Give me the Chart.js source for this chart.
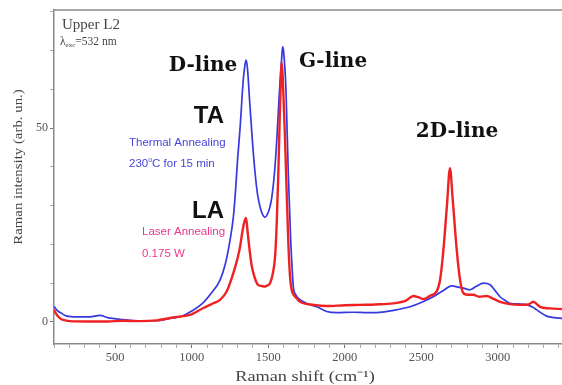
<!DOCTYPE html>
<html>
<head>
<meta charset="utf-8">
<script src="https://cdn.jsdelivr.net/npm/chart.js@4/dist/chart.umd.min.js"></script>
<style>
html,body{margin:0;padding:0;background:#fff;overflow:hidden;}
#wrap{width:562px;height:385px;position:relative;}
</style>
</head>
<body>
<div id="wrap"><canvas id="c" width="562" height="385"></canvas></div>
<script>
// Raman shift (cm^-1) and intensity for Thermal Annealing (blue)
const taShift = [100,120,150,183,250,335,400,450,551,650,771,858,943,1000,1076,1130,1185,1220,1250,1272,1283,1300,1316,1337,1347,1355,1363,1381,1398,1414,1430,1446,1462,1479,1495,1510,1523,1540,1556,1567,1577,1588,1594,1600,1608,1616,1631,1647,1656,1664,1680,1697,1750,1817,1882,1950,2050,2150,2209,2320,2427,2500,2578,2640,2700,2740,2776,2820,2860,2906,2950,2985,3015,3050,3080,3150,3190,3230,3255,3320,3370,3420];
const taIntensity = [4.0,3.0,2.2,1.5,1.3,1.3,1.7,1.1,0.6,0.3,0.3,0.9,1.6,2.8,5.0,7.5,10.8,15,21,27,32,42,50,62.5,66,67.6,66,55.6,46,38.5,33,29.8,27.8,27,27.8,29.5,32,38,47,55,62,68,71,70,66,60,38.5,21,14,9.1,7,6.1,4.8,3.9,2.7,2.4,2.5,2.4,2.4,3.0,3.9,5.0,6.5,8.0,9.3,9.0,8.7,8.3,9.2,10.0,9.6,8.0,6.5,5.5,4.8,4.6,4.4,3.8,3.1,1.5,1.1,0.9];
// Laser Annealing (red)
const laShift = [100,115,140,161,200,335,450,550,662,771,858,943,989,1076,1130,1185,1230,1272,1300,1316,1330,1342,1355,1366,1381,1392,1403,1420,1435,1455,1479,1495,1512,1530,1545,1556,1566,1577,1584,1588,1595,1610,1621,1631,1642,1653,1670,1686,1708,1800,1882,2000,2100,2200,2318,2400,2449,2480,2514,2560,2600,2623,2645,2668,2688,2705,2732,2754,2776,2810,2841,2880,2928,2970,3015,3080,3146,3200,3233,3255,3276,3340,3420];
const laIntensity = [3.2,2.0,0.9,0.5,0.2,0.1,0.1,0.3,0.2,0.4,1.0,1.5,1.8,3.6,4.6,5.7,8.0,12.6,16.5,19.4,23,25.5,26.8,23,17.7,14.5,12.6,10.5,9.5,9.3,9.1,9.4,10,12.5,16.9,26,38.4,55.6,64,67,63,47,33,21,12,8.3,6.8,6.1,5.2,4.4,4.1,4.3,4.4,4.5,4.8,5.5,6.7,6.4,5.9,6.8,7.8,10.8,18.6,30,39.7,32,18.6,10.8,7.4,7.0,7.0,6.5,6.7,6.0,5.2,4.6,4.4,4.5,5.2,4.6,3.9,3.5,3.3];
const xLabelTicks = [500,1000,1500,2000,2500,3000];
const yLabelTicks = [0,50];

const toPts = (xs, ys) => xs.map((x, i) => ({x: x, y: ys[i]}));

const textPlugin = {
  id: 'texts',
  afterDraw(chart) {
    const ctx = chart.ctx;
    const a = chart.chartArea;
    ctx.save();
    // top frame line
    ctx.strokeStyle = '#8a8a8a';
    ctx.lineWidth = 1.5;
    ctx.beginPath();
    ctx.moveTo(a.left, a.top);
    ctx.lineTo(a.right, a.top);
    ctx.stroke();

    // axis titles
    ctx.fillStyle = '#444';
    ctx.textAlign = 'center';
    ctx.textBaseline = 'alphabetic';
    ctx.save();
    ctx.translate(305, 381);
    ctx.scale(1.22, 1);
    ctx.font = '15px "Liberation Serif"';
    ctx.fillText('Raman shift (cm\u207b\u00b9)', 0, 0);
    ctx.restore();
    ctx.save();
    ctx.translate(22, 167);
    ctx.rotate(-Math.PI / 2);
    ctx.scale(1.1, 1);
    ctx.font = '13.5px "Liberation Serif"';
    ctx.fillText('Raman intensity (arb. un.)', 0, 0);
    ctx.restore();

    ctx.fillStyle = '#444';
    ctx.textAlign = 'left';
    ctx.font = '15px "Liberation Serif"';
    ctx.fillText('Upper L2', 62, 29);
    ctx.font = '11.5px "Liberation Serif"';
    ctx.fillText('\u03bb', 60, 45);
    let w = ctx.measureText('\u03bb').width;
    ctx.font = '7px "Liberation Serif"';
    ctx.fillText('exc', 60 + w, 47);
    let w2 = ctx.measureText('exc').width;
    ctx.font = '11.5px "Liberation Serif"';
    ctx.fillText('=532 nm', 60 + w + w2, 45);

    ctx.fillStyle = '#111';
    ctx.textAlign = 'center';
    ctx.font = 'bold 20px "DejaVu Serif"';
    ctx.fillText('D-line', 203, 71);
    ctx.fillText('G-line', 333, 67);
    ctx.fillText('2D-line', 457, 137);

    ctx.font = 'bold 24px "Liberation Sans"';
    ctx.textAlign = 'right';
    ctx.fillText('TA', 224, 123);
    ctx.fillText('LA', 224, 218);

    ctx.font = '11.5px "Liberation Sans"';
    ctx.fillStyle = '#4646dc';
    ctx.textAlign = 'left';
    ctx.fillText('Thermal Annealing', 129, 146);
    ctx.fillText('230', 129, 167);
    let w3 = ctx.measureText('230').width;
    ctx.font = '7px "Liberation Sans"';
    ctx.fillText('o', 129 + w3, 162);
    let w4 = ctx.measureText('o').width;
    ctx.font = '11.5px "Liberation Sans"';
    ctx.fillText('C for 15 min', 129 + w3 + w4, 167);

    ctx.fillStyle = '#e8388a';
    ctx.fillText('Laser Annealing', 142, 235);
    ctx.fillText('0.175 W', 142, 257);
    ctx.restore();
  }
};

new Chart(document.getElementById('c'), {
  type: 'line',
  data: {
    datasets: [
      {
        label: 'LA',
        data: toPts(laShift, laIntensity),
        borderColor: '#ee2222',
        borderWidth: 2.4,
        pointRadius: 0,
        cubicInterpolationMode: 'monotone',
        order: 0
      },
      {
        label: 'TA',
        data: toPts(taShift, taIntensity),
        borderColor: '#3838e0',
        borderWidth: 1.7,
        pointRadius: 0,
        cubicInterpolationMode: 'monotone',
        order: 1
      }
    ]
  },
  options: {
    responsive: false,
    animation: false,
    devicePixelRatio: 1,
    layout: {padding: {top: 10, right: 0, left: 0, bottom: 0}},
    plugins: {legend: {display: false}, tooltip: {enabled: false}},
    scales: {
      x: {
        type: 'linear',
        min: 100,
        max: 3420,
        afterFit(s) { s.height = 41; },
        afterBuildTicks(s) {
          const t = [];
          for (let v = 100; v <= 3400; v += 100) t.push({value: v});
          s.ticks = t;
        },
        border: {display: true, color: '#8a8a8a', width: 1.5},
        grid: {
          drawOnChartArea: false,
          drawTicks: true,
          tickLength: 4,
          color: (c) => (c.tick && xLabelTicks.includes(c.tick.value)) ? '#777' : '#aaa'
        },
        ticks: {
          autoSkip: false,
          maxRotation: 0,
          padding: 2,
          color: '#555',
          font: {family: '"Liberation Serif"', size: 12.5},
          callback: (v) => xLabelTicks.includes(v) ? String(v) : ''
        },
        title: {display: false}
      },
      y: {
        type: 'linear',
        min: -5.7,
        max: 80.5,
        afterFit(s) { s.width = 54; },
        afterBuildTicks(s) {
          const t = [];
          for (let v = 0; v <= 80; v += 10) t.push({value: v});
          s.ticks = t;
        },
        border: {display: true, color: '#8a8a8a', width: 1.5},
        grid: {
          drawOnChartArea: false,
          drawTicks: true,
          tickLength: 4,
          color: (c) => (c.tick && yLabelTicks.includes(c.tick.value)) ? '#777' : '#aaa'
        },
        ticks: {
          autoSkip: false,
          padding: 2,
          color: '#555',
          font: {family: '"Liberation Serif"', size: 12},
          callback: (v) => yLabelTicks.includes(v) ? String(v) : ''
        },
        title: {display: false}
      }
    }
  },
  plugins: [textPlugin]
});
</script>
</body>
</html>
